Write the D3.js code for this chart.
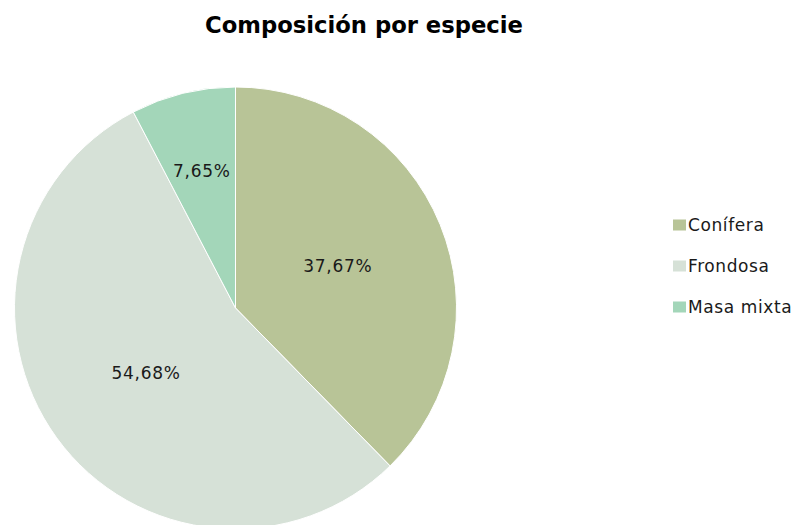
<!DOCTYPE html>
<html lang="es">
<meta charset="utf-8">
<head>
  <title>Composición por especie</title>
  <style>
  body { margin: 0; background: #fff; }
  .title { font: bold 22.7px "DejaVu Sans", sans-serif; fill: #000; }
  .slice-label { font: 17px "DejaVu Sans", sans-serif; fill: #1a1a1a; letter-spacing: 0.7px; }
  .legend text { font: 17px "DejaVu Sans", sans-serif; fill: #1a1a1a; letter-spacing: 0.6px; }
  </style>
</head>
<body>
<svg id="chart" width="795" height="525"></svg>
<script src="https://cdn.jsdelivr.net/npm/d3@7"></script>
<script>

var categories = ["Conífera", "Frondosa", "Masa mixta"];
var values = [37.67, 54.68, 7.65];
var labels = ["37,67%", "54,68%", "7,65%"];
var colors = ["#b8c497", "#d6e1d7", "#a3d6b9"];

var svg = d3.select("svg#chart"),
    cx = 235.5,
    cy = 308,
    radius = 221;

svg.append("text")
    .attr("class", "title")
    .attr("x", 364)
    .attr("y", 33)
    .attr("text-anchor", "middle")
    .text("Composición por especie");

var color = d3.scaleOrdinal().domain(categories).range(colors);

var pie = d3.pie()
    .sort(null)
    .value(function(d) { return d.value; });

var data = categories.map(function(c, i) {
  return {name: c, value: values[i], label: labels[i]};
});

var arc = d3.arc().innerRadius(0).outerRadius(radius);

var g = svg.append("g").attr("transform", "translate(" + cx + "," + cy + ")");

var slices = pie(data);

g.selectAll("path")
    .data(slices)
  .enter().append("path")
    .attr("d", arc)
    .attr("fill", function(d) { return color(d.data.name); })
    .attr("stroke", "#fff")
    .attr("stroke-width", 1);

// small slice gets its label pushed further out, like the original
g.selectAll(".slice-label")
    .data(slices)
  .enter().append("text")
    .attr("class", "slice-label")
    .attr("transform", function(d) {
      var r = (d.endAngle - d.startAngle) < 0.6 ? radius * 0.64 : radius * 0.5;
      var a = d3.arc().innerRadius(r).outerRadius(r);
      return "translate(" + a.centroid(d) + ")";
    })
    .attr("text-anchor", "middle")
    .attr("dy", "0.36em")
    .text(function(d) { return d.data.label; });

// legend
var legend = svg.append("g")
    .attr("class", "legend")
    .attr("transform", "translate(673,225)");

var item = legend.selectAll("g")
    .data(categories)
  .enter().append("g")
    .attr("transform", function(d, i) { return "translate(0," + (i * 41) + ")"; });

item.append("rect")
    .attr("x", 0)
    .attr("y", -5.5)
    .attr("width", 13)
    .attr("height", 11)
    .attr("fill", function(d) { return color(d); });

item.append("text")
    .attr("x", 15)
    .attr("dy", "0.34em")
    .text(function(d) { return d; });

</script>
</body>
</html>
